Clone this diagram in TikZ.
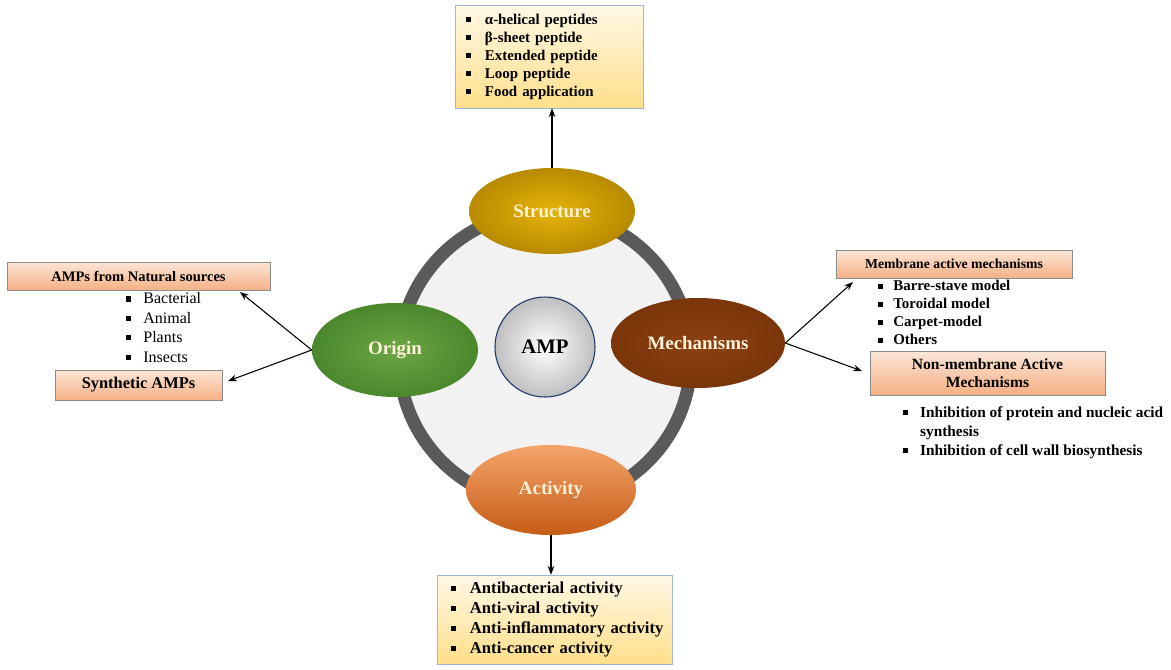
\documentclass[tikz,border=0pt]{standalone}
\usepackage{fontspec}
\setmainfont{Liberation Serif}
\usetikzlibrary{arrows.meta,shapes.geometric}
\definecolor{ringgray}{HTML}{5A5A5A}
\definecolor{ringfill}{HTML}{F2F2F2}
\definecolor{strin}{HTML}{E6B40A}
\definecolor{strout}{HTML}{B88A00}
\definecolor{oriin}{HTML}{6CA646}
\definecolor{oriout}{HTML}{4B872C}
\definecolor{mechin}{HTML}{8A4210}
\definecolor{mechout}{HTML}{7A350A}
\definecolor{acttop}{HTML}{F4A46A}
\definecolor{actbot}{HTML}{C65C16}
\definecolor{ampline}{HTML}{203864}
\definecolor{cream}{HTML}{FFF2D9}
\definecolor{ytop}{HTML}{FFF8E6}
\definecolor{ybot}{HTML}{FFDF8A}
\definecolor{yline}{HTML}{9DB5D6}
\definecolor{ptop}{HTML}{FCE6D6}
\definecolor{pbot}{HTML}{F4B085}
\definecolor{pline}{HTML}{8C8C8C}
\newcommand{\sqb}{\rule[.15em]{.32em}{.32em}}
\tikzset{
  blob/.style={ellipse,inner sep=0pt,text=cream,font=\fontsize{14.2}{16}\selectfont\bfseries},
  ybox/.style={draw=yline,top color=ytop,bottom color=ybot,inner ysep=0pt,align=left},
  pbox/.style={draw=pline,top color=ptop,bottom color=pbot,inner sep=0pt,align=center},
  list/.style={inner sep=0pt,align=left,anchor=north west},
  link/.style={->,line width=.8pt},
}

\begin{document}
\begin{tikzpicture}[x=.75pt,y=-.75pt,>=Stealth]
\useasboundingbox (0,0) rectangle (1171,669);
% ring behind the four topics
\draw[ringgray,fill=ringfill,line width=9.75pt] (545,358) circle[radius=146];
\node[blob,inner color=strin,outer color=strout,minimum width=124.5pt,minimum height=64.5pt] (strc) at (552,211) {Structure};
\node[blob,inner color=oriin,outer color=oriout,minimum width=124.5pt,minimum height=70.5pt] (orig) at (395,350) {Origin};
\node[blob,inner color=mechin,outer color=mechout,minimum width=130.5pt,minimum height=67.5pt] (mech) at (698,343) {Mechanisms};
\node[blob,top color=acttop,bottom color=actbot,minimum width=127.5pt,minimum height=67.5pt] (actv) at (551,490) {Activity};
\node[circle,draw=ampline,line width=.8pt,inner color=white,outer color=black!25,minimum size=75pt,inner sep=0pt,font=\fontsize{15.5}{18}\selectfont\bfseries] (amp) at (545,347) {AMP};
% structure
\node[ybox,minimum width=141pt,minimum height=77.25pt,text width=124.5pt,inner xsep=8.25pt,font=\fontsize{11.2}{13.5}\selectfont\bfseries] (strbox) at (549,56.5)
  {\begin{tabular}{@{}l@{\hspace{10.6pt}}l@{}}
  \sqb & α-helical peptides\\ \sqb & β-sheet peptide\\ \sqb & Extended peptide\\ \sqb & Loop peptide\\ \sqb & Food application
  \end{tabular}};
\draw[link] (strc.north) -- (strc.north |- strbox.south);
% activity
\node[ybox,minimum width=176.25pt,minimum height=66.75pt,text width=155.25pt,inner xsep=10.5pt,font=\fontsize{12.5}{15}\selectfont\bfseries] (actbox) at (554.5,619.5)
  {\begin{tabular}{@{}l@{\hspace{10.2pt}}l@{}}
  \sqb & Antibacterial activity\\ \sqb & Anti-viral activity\\ \sqb & Anti-inflammatory activity\\ \sqb & Anti-cancer activity
  \end{tabular}};
\draw[link] (actv.south) -- (actv.south |- actbox.north);
% origin
\node[pbox,minimum width=197.25pt,minimum height=21pt,font=\fontsize{10.9}{13}\selectfont\bfseries] (natbox) at (138.5,276) {AMPs from Natural sources};
\node[pbox,minimum width=125.25pt,minimum height=22.5pt,font=\fontsize{12.3}{14}\selectfont\bfseries] (synbox) at (138.5,385) {Synthetic AMPs};
\node[list,font=\fontsize{12}{14.6}\selectfont] (orilist) at (126,290)
  {\begin{tabular}{@{}l@{\hspace{9pt}}l@{}}
  \sqb & Bacterial\\ \sqb & Animal\\ \sqb & Plants\\ \sqb & Insects
  \end{tabular}};
\coordinate (natpt) at (240,292);
\coordinate (synpt) at (228,381);
\draw[link] (orig.west) -- (natpt);
\draw[link] (orig.west) -- (synpt);
% mechanisms
\node[pbox,minimum width=177pt,minimum height=21pt,font=\fontsize{10.3}{12}\selectfont\bfseries] (membox) at (954,264) {Membrane active mechanisms};
\node[pbox,minimum width=176.25pt,minimum height=33pt,font=\fontsize{11.7}{14}\selectfont\bfseries] (nonbox) at (987.5,373) {Non-membrane Active\\Mechanisms};
\node[list,font=\fontsize{11.2}{13.5}\selectfont\bfseries] (memlist) at (878,278)
  {\begin{tabular}{@{}l@{\hspace{7.7pt}}l@{}}
  \sqb & Barre-stave model\\ \sqb & Toroidal model\\ \sqb & Carpet-model\\ \sqb & Others
  \end{tabular}};
\node[list,font=\fontsize{11.5}{14.25}\selectfont\bfseries] (inhlist) at (903,403.5)
  {\begin{tabular}{@{}l@{\hspace{9pt}}l@{}}
  \sqb & Inhibition of protein and nucleic acid\\ & synthesis\\ \sqb & Inhibition of cell wall biosynthesis
  \end{tabular}};
\coordinate (mempt) at (853,282);
\coordinate (nonpt) at (862,371);
\draw[link] (mech.east) -- (mempt);
\draw[link] (mech.east) -- (nonpt);
\end{tikzpicture}
\end{document}
